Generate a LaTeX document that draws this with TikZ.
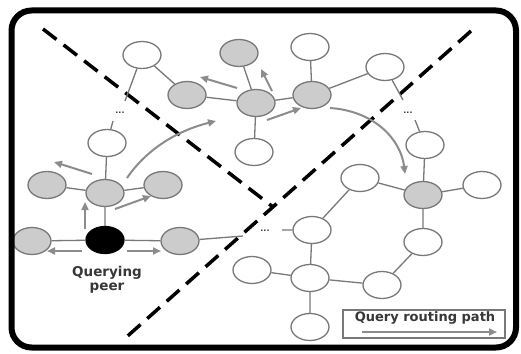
\documentclass[tikz,border=0pt]{standalone}
\usepackage{fontspec}
\newfontfamily\lblfont{DejaVu Sans}
\usetikzlibrary{arrows.meta,shapes.geometric}
\definecolor{edgegray}{RGB}{120,120,120}
\definecolor{peerfill}{RGB}{204,204,204}
\definecolor{flowgray}{RGB}{140,140,140}
\definecolor{txtgray}{RGB}{55,55,55}
\tikzset{
  peer/.style={ellipse,draw=edgegray,line width=1.3pt,minimum width=38pt,minimum height=27pt,inner sep=0pt},
  visited/.style={peer,fill=peerfill},
  idle/.style={peer,fill=white},
  origin/.style={peer,fill=black,draw=black},
  link/.style={draw=edgegray,line width=1.3pt},
  flow/.style={draw=flowgray,line width=2pt,-{Triangle[length=8pt,width=7pt]}},
  cut/.style={draw=black,line width=3.5pt,dash pattern=on 17pt off 9pt},
  more/.style={font=\lblfont\bfseries\fontsize{8}{8}\selectfont,text=txtgray,inner sep=0pt},
  caption/.style={font=\lblfont\bfseries\fontsize{13.5}{14.5}\selectfont,text=txtgray,align=center,inner sep=0pt}
}
\begin{document}
\begin{tikzpicture}[x=1pt,y=-1pt]
\useasboundingbox (0,0) rectangle (521,353);
\fill[white] (0,0) rectangle (521,353);

% partition lines between the overlay regions
\draw[cut] (43,29) -- (273,207);
\draw[cut] (471,31) -- (122,341);

% peers
\node[idle]    (A)  at (142,55)  {};
\node[visited] (B)  at (187,95)  {};
\node[visited] (C)  at (239,53)  {};
\node[visited] (D)  at (256,103) {};
\node[idle]    (Dw) at (254,152) {};
\node[idle]    (E)  at (107,143) {};
\node[idle]    (F)  at (310,47)  {};
\node[visited] (G)  at (312,95)  {};
\node[idle]    (H)  at (385,67)  {};
\node[idle]    (I)  at (425,145) {};
\node[visited] (Q)  at (423,195) {};
\node[idle]    (R)  at (482,185) {};
\node[idle]    (P)  at (360,178) {};
\node[idle]    (T)  at (423,242) {};
\node[idle]    (S)  at (312,230) {};
\node[idle]    (U)  at (252,270) {};
\node[idle]    (V)  at (310,278) {};
\node[idle]    (W)  at (382,285) {};
\node[idle]    (X)  at (310,327) {};
\node[visited] (J)  at (47,185)  {};
\node[visited] (K)  at (105,193) {};
\node[visited] (L)  at (163,185) {};
\node[visited] (M)  at (32,241)  {};
\node[origin]  (N)  at (105,240) {};
\node[visited] (O)  at (180,241) {};

% elided parts of the overlay
\node[more] (d1) at (120,113) {...};
\node[more] (d2) at (408,113) {...};
\node[more] (d3) at (265,231) {...};
\coordinate (a1) at (125,101);
\coordinate (a2) at (113,121);
\coordinate (h1) at (403,100);
\coordinate (h2) at (415,120);
\coordinate (s1) at (282,230);
\coordinate (o1) at (243,236);

% overlay links
\path[link] (A) -- (B) (B) -- (D) (C) -- (D) (D) -- (Dw) (D) -- (G)
  (F) -- (G) (G) -- (H) (I) -- (Q) (Q) -- (R) (Q) -- (T) (P) -- (Q)
  (S) -- (P) (T) -- (W) (W) -- (V) (V) -- (U) (V) -- (S) (V) -- (X)
  (K) -- (E) (K) -- (J) (K) -- (L) (K) -- (N) (N) -- (M) (N) -- (O);
\path[link] (A) -- (a1) (a2) -- (E) (H) -- (h1) (h2) -- (I)
  (S) -- (s1) (O) -- (o1);

% query routing
\coordinate (f1s) at (237,88);  \coordinate (f1e) at (200,77);
\coordinate (f2s) at (272,91);  \coordinate (f2e) at (261,69);
\coordinate (f3s) at (267,120); \coordinate (f3e) at (301,108);
\coordinate (f4s) at (330,108); \coordinate (f4e) at (405,174);
\coordinate (f5s) at (92,174);  \coordinate (f5e) at (54,162);
\coordinate (f6s) at (85,229);  \coordinate (f6e) at (85,202);
\coordinate (f7s) at (115,209); \coordinate (f7e) at (151,196);
\coordinate (f8s) at (127,178); \coordinate (f8e) at (216,121);
\coordinate (f9s) at (82,251);  \coordinate (f9e) at (47,251);
\coordinate (f10s) at (127,251); \coordinate (f10e) at (161,251);
\draw[flow] (f1s) -- (f1e);
\draw[flow] (f2s) -- (f2e);
\draw[flow] (f3s) -- (f3e);
\draw[flow] (f4s) .. controls (375,111) and (401,140) .. (f4e);
\draw[flow] (f5s) -- (f5e);
\draw[flow] (f6s) -- (f6e);
\draw[flow] (f7s) -- (f7e);
\draw[flow] (f8s) .. controls (146,150) and (176,131) .. (f8e);
\draw[flow] (f9s) -- (f9e);
\draw[flow] (f10s) -- (f10e);

\node[caption] (qp) at (107,280) {Querying\\peer};

% legend
\node[draw=edgegray,line width=1.2pt,minimum width=162pt,minimum height=28pt,inner sep=0pt] (leg) at (424,324) {};
\node[caption,font=\lblfont\bfseries\fontsize{13}{14}\selectfont] (legtxt) at (425,318) {Query routing path};
\coordinate (l1) at (362,332);
\coordinate (l2) at (497,332);
\draw[flow] (l1) -- (l2);

% outer frame
\draw[black,line width=6pt,rounded corners=20pt] (11.5,10.5) rectangle (516,347.5);
\end{tikzpicture}
\end{document}
